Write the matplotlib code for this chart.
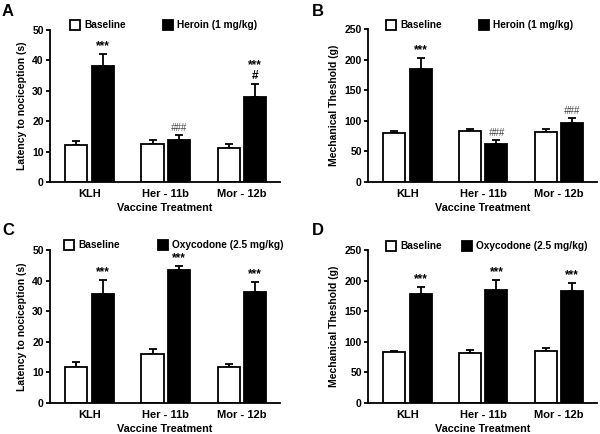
import matplotlib.pyplot as plt
import numpy as np
from matplotlib.patches import Rectangle

plt.rcParams['font.family'] = ['Liberation Sans', 'DejaVu Sans']
plt.rcParams['font.weight'] = 'bold'

groups = ['KLH', 'Her - 11b', 'Mor - 12b']

# Panel A: tail-flick latency, heroin
a_base = [12.2, 12.5, 11.3]
a_base_err = [1.2, 1.2, 1.3]
a_drug = [38.0, 13.8, 28.0]
a_drug_err = [4.0, 1.7, 4.2]
a_marks = ['***', '###', '***\n#']

# Panel B: mechanical threshold, heroin
b_base = [80, 83, 81]
b_base_err = [4, 4, 6]
b_drug = [184, 62, 96]
b_drug_err = [18, 7, 9]
b_marks = ['***', '###', '###']

# Panel C: tail-flick latency, oxycodone
c_base = [11.8, 16.0, 11.8]
c_base_err = [1.5, 1.5, 1.0]
c_drug = [35.7, 43.5, 36.3]
c_drug_err = [4.5, 1.4, 3.3]
c_marks = ['***', '***', '***']

# Panel D: mechanical threshold, oxycodone
d_base = [83, 81, 85]
d_base_err = [2, 5, 5]
d_drug = [178, 185, 183]
d_drug_err = [12, 16, 13]
d_marks = ['***', '***', '***']

W, H = 600, 434

# (letter, axes left/right/top/bottom px, letter pos px, legend square x px, legend y px, data...)
panels = [
    ('A', (50, 280, 30, 182), (8, 11), (70, 163), 25,
     a_base, a_base_err, a_drug, a_drug_err, a_marks,
     'Heroin (1 mg/kg)', 'Latency to nociception (s)', 50, 10),
    ('B', (368, 597, 29, 182), (318, 11), (386, 479), 25,
     b_base, b_base_err, b_drug, b_drug_err, b_marks,
     'Heroin (1 mg/kg)', 'Mechanical Theshold (g)', 250, 50),
    ('C', (50, 280, 250, 403), (8, 230), (64, 158), 245,
     c_base, c_base_err, c_drug, c_drug_err, c_marks,
     'Oxycodone (2.5 mg/kg)', 'Latency to nociception (s)', 50, 10),
    ('D', (368, 597, 250, 403), (318, 230), (386, 462), 246,
     d_base, d_base_err, d_drug, d_drug_err, d_marks,
     'Oxycodone (2.5 mg/kg)', 'Mechanical Theshold (g)', 250, 50),
]

fig = plt.figure(figsize=(6, 4.34), dpi=100)
x = np.arange(len(groups))
w = 0.29
off = 0.174

for (letter, box, lpos, legx, legy, base, base_err, drug, drug_err, marks,
     drug_name, ylab, ymax, step) in panels:
    l, r, t, b = box
    ax = fig.add_axes([l / W, 1 - b / H, (r - l) / W, (b - t) / H])
    ax.bar(x - off, base, w, color='white', edgecolor='black', linewidth=1.3, zorder=2)
    ax.bar(x + off, drug, w, color='black', edgecolor='black', linewidth=1.3, zorder=2)
    ax.errorbar(x - off, base, yerr=[np.zeros(3), base_err], fmt='none', ecolor='black',
                elinewidth=1.3, capsize=2.6, capthick=1.3, zorder=1)
    ax.errorbar(x + off, drug, yerr=[np.zeros(3), drug_err], fmt='none', ecolor='black',
                elinewidth=1.3, capsize=2.6, capthick=1.3, zorder=1)
    for i, m in enumerate(marks):
        top = drug[i] + drug_err[i] + ymax * 0.012
        if m == '###':
            ax.text(x[i] + off, top, m, ha='center', va='bottom', fontsize=7,
                    style='italic', color='#444444', fontweight='normal')
        else:
            ax.text(x[i] + off, top, m, ha='center', va='bottom', fontsize=8.5,
                    linespacing=0.85)
    ax.set_xlim(-0.52, 2.5)
    ax.set_ylim(0, ymax)
    ax.set_yticks(np.arange(0, ymax + 1, step))
    ax.set_xticks(x)
    ax.set_xticklabels(groups, fontsize=8, fontweight='bold')
    ax.tick_params(axis='x', length=0, pad=5)
    ax.tick_params(axis='y', labelsize=7.5, width=1.3, length=3, pad=1.5)
    for tl in ax.get_yticklabels():
        tl.set_fontweight('bold')
    ax.spines['top'].set_visible(False)
    ax.spines['right'].set_visible(False)
    ax.spines['left'].set_linewidth(1.3)
    ax.spines['bottom'].set_linewidth(1.3)
    ax.set_xlabel('Vaccine Treatment', fontsize=7.8, fontweight='bold', labelpad=3)
    ax.set_ylabel(ylab, fontsize=7.5, fontweight='bold', labelpad=4)

    # legend: open and filled squares with labels above the plot
    for sx, fc, lab in zip(legx, ['white', 'black'], ['Baseline', drug_name]):
        fig.add_artist(Rectangle((sx / W, 1 - (legy + 5) / H), 10 / W, 10 / H,
                                 transform=fig.transFigure, facecolor=fc,
                                 edgecolor='black', linewidth=1.3))
        fig.text((sx + 14) / W, 1 - legy / H, lab, fontsize=7.3, fontweight='bold',
                 ha='left', va='center')

    fig.text(lpos[0] / W, 1 - lpos[1] / H, letter, fontsize=12,
             fontweight='bold', ha='center', va='center')

fig.savefig('out.png', dpi=100)
